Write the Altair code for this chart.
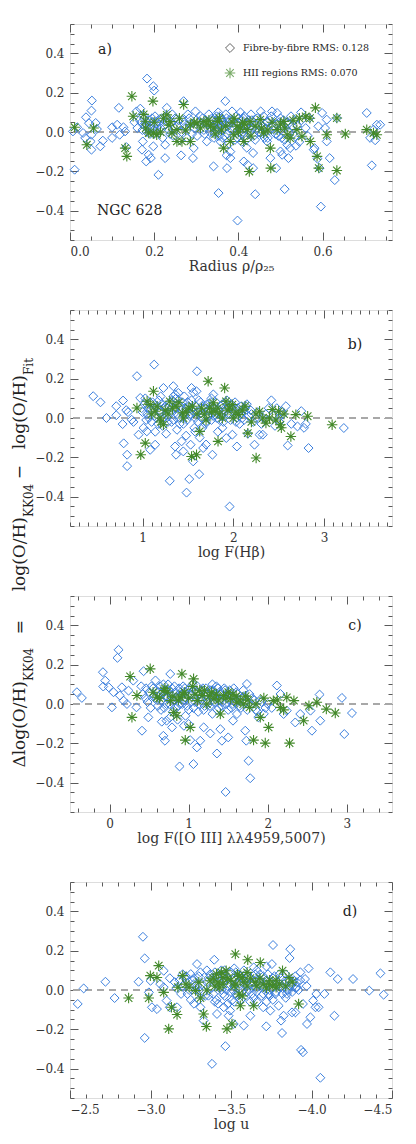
import altair as alt
import pandas as pd

# ---------------- data (x, Δlog(O/H)) ----------------
FIB_A = [
(0.011,-0.192),(0.007,0.003),(0.017,0.024),(0.031,-0.005),(0.038,0.075),(0.052,0.16),(0.051,0.109),
(0.045,0.045),(0.051,-0.014),(0.049,-0.048),(0.051,-0.09),(0.036,-0.03),(0.061,0.046),(0.064,0.015),
(0.072,-0.073),(0.078,-0.044),(0.100,0.024),(0.100,-0.03),(0.116,0.123),(0.112,0.037),(0.118,-0.014),
(0.127,0.024),(0.134,-0.077),(0.131,0.003),(0.153,0.05),(0.158,0.105),(0.167,0.119),(0.183,0.272),
(0.198,0.233),(0.200,0.211),(0.171,-0.09),(0.173,-0.048),(0.187,-0.116),(0.192,-0.133),(0.198,-0.073),
(0.181,-0.15),(0.210,-0.218),(0.226,-0.133),(0.226,-0.065),(0.230,0.123),(0.264,-0.119),(0.270,0.157),
(0.292,-0.133),(0.294,-0.082),(0.298,0.105),(0.325,-0.048),(0.341,-0.175),(0.353,-0.311),(0.369,0.157),
(0.373,-0.184),(0.381,-0.133),(0.381,-0.1),(0.372,-0.119),(0.385,0.105),(0.398,-0.451),(0.413,-0.15),
(0.422,-0.167),(0.435,-0.184),(0.435,-0.107),(0.440,-0.317),(0.453,0.105),(0.468,0.054),(0.444,0.02),
(0.468,-0.048),(0.476,-0.133),(0.490,-0.184),(0.480,0.105),(0.492,0.097),(0.500,-0.099),(0.504,-0.116),
(0.510,-0.291),(0.516,-0.065),(0.519,-0.133),(0.523,-0.082),(0.535,-0.022),(0.537,-0.07),(0.549,0.1),
(0.569,0.071),(0.579,-0.09),(0.581,-0.082),(0.588,-0.136),(0.590,0.029),(0.599,0.097),(0.593,-0.184),
(0.596,-0.38),(0.606,0.02),(0.610,0.063),(0.610,-0.048),(0.617,-0.133),(0.629,-0.245),(0.634,0.071),
(0.705,0.097),(0.713,-0.03),(0.717,-0.17),(0.721,0.012),(0.729,0.037),(0.737,0.037),(0.725,-0.042),
(0.160,0.02),(0.165,0.06),(0.175,0.085),(0.178,0.03),(0.182,0.0),(0.186,0.045),(0.19,0.02),(0.195,0.07),
(0.2,-0.01),(0.205,0.04),(0.21,0.06),(0.215,0.02),(0.22,-0.03),(0.228,0.08),(0.235,0.01),(0.24,0.05),
(0.245,-0.02),(0.25,0.07),(0.255,0.03),(0.262,-0.04),(0.268,0.06),(0.275,0.02),(0.28,0.09),(0.285,0.04),
(0.29,-0.01),(0.3,0.06),(0.305,0.03),(0.31,0.08),(0.318,0.01),(0.322,0.05),(0.33,0.09),(0.335,0.02),
(0.34,0.06),(0.342,-0.03),(0.345,0.04),(0.348,0.08),(0.35,0.0),(0.352,0.1),(0.355,0.03),(0.358,-0.05),
(0.36,0.07),(0.362,0.01),(0.365,0.05),(0.368,-0.02),(0.37,0.09),(0.375,0.03),(0.378,-0.06),(0.38,0.06),
(0.39,0.02),(0.395,0.08),(0.398,-0.03),(0.40,0.05),(0.402,0.0),(0.405,0.1),(0.408,-0.05),(0.41,0.03),
(0.412,0.07),(0.415,-0.02),(0.418,0.04),(0.42,-0.08),(0.425,0.06),(0.428,0.0),(0.43,0.09),(0.435,0.02),
(0.44,-0.04),(0.445,0.07),(0.45,0.03),(0.455,-0.01),(0.46,0.08),(0.465,0.02),(0.47,-0.03),(0.475,0.06),
(0.485,0.01),(0.49,0.04),(0.495,-0.02),(0.5,0.07),(0.505,0.02),(0.51,-0.04),(0.515,0.05),(0.52,0.0),
(0.525,0.08),(0.53,-0.01),(0.54,0.03),(0.545,-0.05),(0.55,0.06),(0.56,0.02),(0.565,-0.02),
(0.17,0.05),(0.172,0.01),(0.176,0.07),(0.18,0.04),(0.184,0.02),(0.188,0.06),(0.19,-0.01),(0.193,0.03),
(0.196,0.05),(0.199,0.01),(0.202,0.08),(0.207,0.0),(0.212,0.04),(0.218,0.07),(0.224,0.03),(0.232,0.05),
(0.238,-0.01),(0.243,0.09),(0.248,0.02),(0.258,0.06),(0.265,0.0),(0.272,0.04),(0.278,-0.03),(0.283,0.07),
(0.295,0.02),(0.302,-0.02),(0.308,0.05),(0.315,0.07),(0.32,-0.01),(0.327,0.04),(0.332,0.0),(0.337,0.07),
(0.339,0.03),(0.344,-0.01),(0.347,0.06),(0.349,0.02),(0.351,0.05),(0.354,-0.02),(0.356,0.08),(0.359,0.03),
(0.361,0.06),(0.363,-0.03),(0.366,0.02),(0.369,0.04),(0.372,0.07),(0.374,-0.01),(0.377,0.05),(0.383,0.01),
(0.387,0.06),(0.392,-0.04),(0.397,0.04),(0.401,0.07),(0.404,0.02),(0.407,-0.01),(0.409,0.06),(0.411,0.0),
(0.414,0.08),(0.417,0.03),(0.419,-0.04),(0.422,0.05),(0.427,0.02),(0.432,0.06),(0.437,-0.02),(0.442,0.04),
(0.448,0.0),(0.452,0.06),(0.458,0.03),(0.462,-0.03),(0.467,0.05),(0.473,0.01),(0.478,0.08),(0.483,0.03),
(0.488,-0.01),(0.497,0.05),(0.503,-0.03),(0.507,0.06),(0.513,0.02),(0.518,0.04),(0.528,0.03),(0.533,0.06),
]
HII_A = [
(0.011,0.024),(0.040,-0.065),(0.056,0.02),(0.131,-0.082),(0.135,-0.124),(0.147,0.182),(0.150,0.08),
(0.175,0.09),(0.179,0.055),(0.187,-0.005),(0.197,0.157),(0.198,-0.005),(0.206,-0.014),(0.222,0.07),
(0.230,0.087),(0.238,0.053),(0.242,-0.005),(0.254,0.012),(0.254,-0.048),(0.266,-0.048),(0.270,0.14),
(0.286,-0.048),(0.286,0.037),(0.302,0.046),(0.318,0.054),(0.334,0.029),(0.342,0.02),(0.350,0.054),
(0.365,-0.082),(0.381,-0.048),(0.389,-0.014),(0.397,0.029),(0.405,0.020),(0.413,-0.048),(0.421,0.012),
(0.426,-0.201),(0.428,0.054),(0.452,0.063),(0.460,-0.005),(0.476,-0.082),(0.477,-0.184),(0.492,0.012),
(0.508,0.054),(0.516,-0.014),(0.523,-0.031),(0.539,0.012),(0.551,-0.022),(0.571,-0.048),(0.583,0.123),
(0.587,-0.124),(0.591,-0.184),(0.610,-0.014),(0.634,0.071),(0.634,-0.196),(0.654,-0.01),(0.705,0.012),
(0.721,-0.005),(0.729,-0.014),(0.33,0.06),(0.36,0.01),(0.39,0.07),(0.41,0.05),(0.44,0.03),(0.47,0.01),
(0.5,0.04),(0.53,0.06),(0.56,0.08),(0.57,0.07),
(0.18,0.02),(0.2,0.05),(0.215,0.0),(0.235,0.035),(0.26,0.07),(0.275,0.01),(0.295,0.05),(0.31,0.02),
(0.325,0.04),(0.345,-0.01),(0.355,0.07),(0.37,0.03),(0.385,0.05),(0.4,0.0),(0.415,0.04),(0.43,-0.02),
(0.455,0.02),(0.48,0.05),(0.51,0.02),(0.545,0.07),
]
FIB_B = [
(0.456,0.111),(0.536,0.08),(0.602,0.0),(0.71,0.06),(0.71,0.014),(0.785,0.089),(0.78,-0.031),(0.792,-0.129),
(0.83,-0.187),(0.83,-0.245),(0.82,0.04),(0.84,0.03),(0.88,-0.009),(0.90,-0.02),(0.938,0.213),(0.956,-0.085),
(0.974,0.102),(0.99,0.05),(1.01,-0.05),(1.047,-0.068),(1.084,-0.162),(1.128,0.272),(1.139,-0.136),(1.23,0.153),
(1.30,-0.32),(1.339,0.162),(1.358,-0.145),(1.369,-0.187),(1.394,0.128),(1.43,-0.119),(1.449,-0.17),(1.485,-0.38),
(1.515,-0.311),(1.53,-0.136),(1.54,0.153),(1.558,-0.221),(1.595,0.136),(1.60,0.238),(1.624,-0.286),(1.63,-0.1),
(1.668,-0.153),(1.70,-0.135),(1.77,-0.187),(1.78,0.12),(1.83,-0.07),(1.88,-0.05),(1.923,-0.102),(1.96,-0.451),
(1.99,-0.085),(2.04,-0.145),(2.09,0.06),(2.13,0.05),(2.16,-0.08),(2.234,-0.136),(2.25,0.0),(2.29,-0.085),
(2.325,-0.085),(2.33,0.0),(2.39,0.05),(2.42,0.09),(2.46,-0.04),(2.50,0.0),(2.53,0.035),(2.6,-0.14),
(2.64,-0.03),(2.708,-0.043),(2.75,0.035),(2.78,-0.05),(2.80,-0.03),(2.83,-0.153),(3.219,-0.051),
(1.05,0.02),(1.08,0.08),(1.1,-0.02),(1.12,0.05),(1.15,0.0),(1.18,0.09),(1.2,0.03),(1.22,-0.04),(1.25,0.06),
(1.27,0.01),(1.3,0.08),(1.32,-0.02),(1.35,0.04),(1.37,0.1),(1.4,0.0),(1.42,0.06),(1.45,-0.03),(1.47,0.03),
(1.5,0.08),(1.52,0.01),(1.55,0.05),(1.57,-0.05),(1.6,0.03),(1.62,0.09),(1.65,0.0),(1.67,0.06),(1.7,-0.02),
(1.72,0.04),(1.75,0.08),(1.78,0.01),(1.8,0.05),(1.85,-0.01),(1.88,0.07),(1.9,0.03),(1.93,0.09),(1.96,0.02),
(2.0,0.06),(2.03,-0.02),(2.06,0.03),(2.1,0.0),(2.15,0.07),(2.2,0.02),(1.14,-0.07),(1.26,-0.08),(1.38,-0.06),
(1.48,-0.09),(1.58,-0.07),(1.66,-0.05),(1.36,0.12),(1.46,0.11),(1.56,0.13),(1.76,0.1),(1.2,0.11),(1.03,0.1),
(1.0,0.03),(1.02,0.07),(1.04,-0.01),(1.06,0.05),(1.07,0.0),(1.09,0.04),(1.11,0.08),(1.13,0.01),(1.16,0.06),
(1.17,-0.03),(1.19,0.04),(1.21,0.07),(1.23,0.0),(1.24,0.05),(1.26,0.02),(1.28,-0.02),(1.29,0.06),(1.31,0.03),
(1.33,0.09),(1.34,-0.01),(1.36,0.05),(1.38,0.02),(1.39,0.07),(1.41,-0.03),(1.43,0.04),(1.44,0.08),(1.46,0.01),
(1.48,0.05),(1.49,-0.01),(1.51,0.06),(1.53,0.02),(1.54,0.09),(1.56,0.03),(1.58,0.0),(1.59,0.06),(1.61,-0.02),
(1.63,0.04),(1.64,0.08),(1.66,0.02),(1.68,0.05),(1.69,-0.03),(1.71,0.07),(1.73,0.01),(1.74,0.04),(1.76,-0.01),
(1.77,0.06),(1.79,0.03),(1.81,0.08),(1.82,0.0),(1.84,0.04),(1.86,0.06),(1.87,0.01),(1.89,-0.02),(1.91,0.05),
(1.92,0.08),(1.94,0.02),(1.95,0.05),(1.97,-0.01),(1.98,0.07),(2.01,0.03),(2.02,0.08),(2.04,0.0),(2.05,0.05),
(2.07,-0.03),(2.08,0.02),(2.11,0.04),(2.12,-0.01),(2.14,0.06),(2.17,0.01),(2.19,0.04),(2.22,-0.02),(2.27,0.03),
(2.31,-0.03),(2.36,0.02),(2.44,0.01),(2.48,0.05),(2.51,-0.02),(2.55,0.02),(2.58,0.06),(1.34,0.11),
]
HII_B = [
(0.938,0.051),(0.98,-0.187),(1.03,-0.128),(1.12,0.136),(1.05,0.085),(1.085,0.068),(1.139,0.034),(1.193,0.0),
(1.23,-0.034),(1.30,0.085),(1.37,0.06),(1.44,0.026),(1.51,0.051),(1.54,-0.196),(1.595,-0.187),(1.63,-0.068),
(1.723,0.187),(1.74,0.051),(1.78,0.077),(1.80,0.034),(1.832,-0.119),(1.905,0.153),(1.92,0.085),(1.96,0.051),
(1.99,0.068),(2.06,0.017),(2.16,-0.077),(2.252,-0.204),(2.29,0.034),(2.325,0.0),(2.36,-0.026),(2.43,0.043),
(2.50,0.034),(2.52,-0.034),(2.53,-0.05),(2.635,-0.094),(2.69,0.017),(2.82,0.009),(3.09,-0.034),
(1.25,0.04),(1.45,0.0),(1.6,0.02),(1.7,-0.01),(1.85,0.02),(2.0,0.0),(2.1,0.04),(2.2,-0.02),
(1.1,0.02),(1.16,0.06),(1.2,-0.02),(1.28,0.02),(1.33,0.05),(1.4,0.08),(1.48,0.03),(1.55,0.06),(1.65,0.05),
(1.68,0.02),(1.76,0.03),(1.83,0.05),(1.88,0.0),(1.94,0.04),(2.03,0.03),(2.13,0.06),(2.25,0.02),(2.4,0.0),
(2.47,-0.01),(2.56,0.02),
]
FIB_C = [
(-0.413,0.06),(-0.35,0.031),(-0.084,0.162),(-0.055,0.119),(-0.08,0.089),(-0.01,0.085),(0.03,-0.017),(0.05,0.06),
(0.114,0.276),(0.10,0.235),(0.13,0.043),(0.156,0.085),(0.177,0.017),(0.22,0.0),(0.24,0.068),(0.30,0.119),
(0.34,-0.017),(0.41,-0.136),(0.43,0.167),(0.49,-0.068),(0.56,0.043),(0.68,-0.162),(0.70,-0.187),(0.72,-0.085),
(0.767,0.153),(0.79,-0.119),(0.885,-0.318),(0.94,-0.111),(1.00,-0.102),(1.02,-0.184),(1.06,-0.306),(1.104,-0.221),
(1.146,-0.187),(1.19,-0.119),(1.273,-0.15),(1.357,-0.252),(1.40,-0.128),(1.42,-0.187),(1.467,-0.448),(1.50,-0.17),
(1.56,-0.085),(1.61,-0.051),(1.715,-0.136),(1.728,-0.187),(1.757,-0.289),(1.778,-0.378),(1.736,0.102),(1.88,-0.068),
(2.115,0.094),(2.16,0.051),(2.2,-0.051),(2.24,-0.034),(2.347,-0.094),(2.41,-0.051),(2.54,-0.034),(2.558,-0.136),
(2.655,0.048),(2.663,-0.085),(2.937,0.031),(2.967,-0.153),(3.064,-0.046),
(0.55,0.08),(0.6,0.02),(0.62,0.06),(0.65,-0.03),(0.68,0.1),(0.7,0.04),(0.72,0.0),(0.75,0.07),(0.78,0.02),
(0.8,-0.04),(0.82,0.09),(0.85,0.03),(0.87,-0.01),(0.9,0.06),(0.92,0.0),(0.95,0.08),(0.97,0.03),(1.0,-0.03),
(1.02,0.05),(1.05,0.1),(1.08,0.01),(1.1,0.06),(1.12,-0.04),(1.15,0.03),(1.18,0.08),(1.2,-0.01),(1.23,0.05),
(1.25,0.0),(1.28,0.07),(1.3,-0.05),(1.33,0.03),(1.35,0.09),(1.38,-0.02),(1.4,0.05),(1.43,0.01),(1.46,0.07),
(1.5,-0.03),(1.53,0.04),(1.56,0.0),(1.6,0.06),(1.63,0.02),(1.66,-0.02),(1.7,0.04),(1.75,0.0),(1.8,0.03),
(1.85,-0.03),(1.9,0.02),(1.95,-0.05),(2.0,0.0),(2.05,-0.02),(0.66,-0.09),(0.76,-0.07),(0.86,-0.08),(0.96,-0.06),
(1.3,0.1),(0.58,0.12),(0.4,0.09),(0.45,0.03),
(0.42,0.05),(0.46,0.08),(0.48,0.01),(0.5,0.06),(0.52,-0.02),(0.53,0.09),(0.57,0.03),(0.59,0.07),(0.61,-0.01),
(0.63,0.04),(0.64,0.09),(0.66,0.02),(0.67,0.06),(0.69,-0.02),(0.71,0.07),(0.73,0.03),(0.74,0.1),(0.76,0.0),
(0.77,0.05),(0.79,0.08),(0.81,0.02),(0.83,0.06),(0.84,-0.02),(0.86,0.04),(0.88,0.08),(0.89,0.0),(0.91,0.05),
(0.93,0.09),(0.94,0.02),(0.96,0.06),(0.98,-0.01),(0.99,0.04),(1.01,0.08),(1.03,0.01),(1.04,0.05),(1.06,-0.02),
(1.07,0.07),(1.09,0.03),(1.11,0.09),(1.13,0.0),(1.14,0.05),(1.16,0.02),(1.17,0.07),(1.19,-0.03),(1.21,0.04),
(1.22,0.08),(1.24,0.01),(1.26,0.06),(1.27,-0.01),(1.29,0.04),(1.31,0.07),(1.32,0.01),(1.34,0.05),(1.36,-0.03),
(1.37,0.08),(1.39,0.02),(1.41,0.06),(1.42,-0.01),(1.44,0.04),(1.45,0.08),(1.47,0.0),(1.49,0.05),(1.51,0.02),
(1.52,0.07),(1.54,-0.02),(1.55,0.04),(1.57,0.08),(1.59,0.01),(1.62,0.05),(1.64,-0.01),(1.67,0.03),(1.69,0.07),
(1.72,0.01),(1.74,-0.03),(1.77,0.05),(1.79,0.0),(1.83,0.02),(1.87,-0.04),(1.92,0.01),(1.97,-0.02),
]
HII_C = [
(0.26,0.14),(0.283,-0.068),(0.346,0.043),(0.514,0.179),(0.60,0.034),(0.687,0.068),(0.77,0.017),(0.81,-0.043),
(0.85,-0.06),(0.89,0.034),(0.914,0.153),(0.957,-0.184),(1.02,-0.119),(1.062,0.128),(1.11,0.017),(1.17,0.043),
(1.23,0.0),(1.32,0.026),(1.40,-0.051),(1.44,0.043),(1.53,0.026),(1.61,0.009),(1.69,0.0),(1.77,-0.017),
(1.82,-0.184),(1.905,-0.068),(1.968,-0.199),(2.01,-0.119),(2.07,0.017),(2.16,-0.017),(2.24,0.034),(2.275,-0.199),
(2.33,0.017),(2.453,-0.085),(2.52,-0.009),(2.62,0.009),(2.74,-0.026),(2.853,-0.046),
(0.7,0.08),(0.95,0.06),(1.05,0.09),(1.2,0.07),(1.35,0.05),(1.5,0.06),(1.6,0.04),(1.75,0.02),
(0.55,0.06),(0.63,0.03),(0.73,0.06),(0.8,0.04),(0.87,0.02),(0.92,0.05),(1.0,0.03),(1.08,0.05),(1.14,0.07),
(1.26,0.04),(1.29,0.06),(1.38,0.02),(1.47,0.03),(1.56,0.05),(1.65,0.02),(1.72,0.04),(1.85,0.0),(1.95,0.03),
(2.12,0.02),(2.2,-0.03),
]
FIB_D = [
(-2.548,-0.071),(-2.585,0.008),(-2.72,0.042),(-2.777,-0.041),(-2.926,0.042),(-2.953,0.271),(-2.964,0.161),
(-2.964,-0.244),(-2.99,-0.012),(-3.0,0.047),(-3.009,-0.088),(-3.04,-0.097),(-3.06,0.03),(-3.082,0.098),
(-3.082,0.014),(-3.10,-0.054),(-3.12,-0.088),(-3.165,-0.088),(-3.21,0.064),(-3.25,0.081),(-3.27,0.03),
(-3.289,0.132),(-3.30,-0.003),(-3.31,-0.088),(-3.33,-0.156),(-3.36,-0.029),(-3.382,-0.376),(-3.396,0.154),
(-3.413,-0.122),(-3.455,-0.088),(-3.465,-0.286),(-3.485,-0.131),(-3.495,-0.105),(-3.505,-0.054),(-3.517,-0.173),
(-3.579,-0.181),(-3.579,-0.037),(-3.62,-0.131),(-3.641,0.115),(-3.70,-0.088),(-3.719,-0.185),(-3.734,-0.02),
(-3.744,-0.105),(-3.754,0.132),(-3.761,0.229),(-3.775,-0.02),(-3.796,-0.08),(-3.811,-0.156),(-3.817,-0.219),
(-3.827,-0.131),(-3.848,-0.02),(-3.864,0.163),(-3.868,0.208),(-3.879,-0.114),(-3.9,-0.114),(-3.91,0.014),
(-3.931,0.09),(-3.935,-0.305),(-3.947,-0.317),(-3.947,-0.071),(-3.96,0.056),(-3.97,0.02),(-3.982,0.11),
(-3.972,-0.173),(-3.993,-0.139),(-4.01,-0.054),(-4.025,-0.088),(-4.03,-0.02),(-4.055,-0.447),(-4.08,-0.02),
(-4.044,-0.088),(-4.117,0.09),(-4.142,-0.131),(-4.163,0.056),(-4.258,0.056),(-4.359,-0.003),(-4.428,0.085),
(-4.448,-0.024),
(-3.2,0.02),(-3.23,-0.02),(-3.26,0.05),(-3.28,0.0),(-3.3,0.07),(-3.32,0.03),(-3.34,-0.03),(-3.36,0.06),
(-3.38,0.01),(-3.4,0.09),(-3.41,-0.05),(-3.42,0.04),(-3.44,0.0),(-3.45,0.07),(-3.46,-0.03),(-3.47,0.05),
(-3.48,0.02),(-3.5,0.09),(-3.51,0.0),(-3.52,0.06),(-3.53,-0.02),(-3.54,0.04),(-3.55,0.08),(-3.56,0.01),
(-3.57,0.06),(-3.58,0.03),(-3.6,-0.01),(-3.61,0.07),(-3.62,0.03),(-3.64,-0.04),(-3.65,0.05),(-3.66,0.01),
(-3.68,0.08),(-3.69,0.02),(-3.7,-0.02),(-3.72,0.05),(-3.74,0.0),(-3.76,0.06),(-3.78,0.03),(-3.8,0.08),
(-3.82,0.01),(-3.84,0.05),(-3.86,0.0),(-3.88,0.04),(-3.9,0.07),(-3.42,-0.07),(-3.52,-0.06),(-3.62,-0.06),
(-3.72,-0.06),(-3.46,0.1),(-3.58,0.1),(-3.38,0.06),(-3.25,-0.05),(-3.15,0.04),(-3.12,0.06),
(-3.16,0.01),(-3.18,0.05),(-3.19,-0.02),(-3.21,0.03),(-3.22,0.07),(-3.24,0.0),(-3.27,0.06),(-3.29,0.02),
(-3.31,0.09),(-3.33,-0.01),(-3.35,0.04),(-3.37,0.08),(-3.39,-0.02),(-3.40,0.03),(-3.41,0.07),(-3.43,0.01),
(-3.44,0.05),(-3.45,-0.02),(-3.46,0.08),(-3.47,0.0),(-3.48,0.06),(-3.49,0.03),(-3.50,-0.01),(-3.51,0.05),
(-3.52,0.02),(-3.53,0.09),(-3.54,-0.03),(-3.55,0.03),(-3.56,0.07),(-3.57,-0.01),(-3.58,0.05),(-3.59,0.08),
(-3.60,0.02),(-3.61,0.0),(-3.62,0.06),(-3.63,-0.02),(-3.64,0.04),(-3.65,0.08),(-3.66,-0.01),(-3.67,0.03),
(-3.68,0.05),(-3.69,-0.03),(-3.70,0.07),(-3.71,0.01),(-3.72,0.03),(-3.73,0.08),(-3.74,-0.03),(-3.75,0.04),
(-3.76,0.01),(-3.77,0.07),(-3.78,-0.01),(-3.79,0.04),(-3.80,0.02),(-3.81,0.06),(-3.82,-0.02),(-3.83,0.03),
(-3.84,0.08),(-3.85,0.0),(-3.86,0.05),(-3.87,0.02),(-3.88,-0.01),(-3.89,0.05),(-3.90,0.01),(-3.91,0.04),
(-3.92,0.0),(-3.93,0.05),(-3.35,0.1),(-3.44,0.1),(-3.52,0.11),(-3.66,0.1),(-3.72,0.12),(-3.3,-0.05),
(-3.4,-0.06),(-3.48,-0.07),(-3.56,-0.05),(-3.66,-0.06),(-3.76,-0.05),(-3.84,-0.04),(-3.27,-0.07),(-3.2,0.08),
]
HII_D = [
(-2.864,-0.041),(-2.989,-0.041),(-2.999,0.073),(-3.051,0.124),(-3.04,0.064),(-3.082,-0.012),(-3.113,-0.198),
(-3.165,-0.125),(-3.13,-0.088),(-3.17,0.014),(-3.2,0.073),(-3.24,0.014),(-3.28,-0.003),(-3.31,-0.041),
(-3.33,-0.122),(-3.347,-0.186),(-3.37,0.047),(-3.41,0.081),(-3.43,0.014),(-3.45,0.064),(-3.47,0.098),
(-3.475,-0.198),(-3.506,-0.173),(-3.527,0.183),(-3.53,0.03),(-3.55,-0.020),(-3.558,-0.08),(-3.57,0.064),
(-3.604,0.154),(-3.641,-0.08),(-3.682,0.14),(-3.70,0.03),(-3.74,0.03),(-3.78,0.014),(-3.82,0.098),
(-3.86,0.064),(-3.92,-0.071),
(-3.45,0.03),(-3.5,0.05),(-3.55,0.07),(-3.6,0.02),(-3.65,0.04),(-3.72,0.01),(-3.78,0.05),(-3.4,0.02),
(-3.22,0.03),(-3.3,0.04),(-3.35,0.0),(-3.39,0.06),(-3.42,0.04),(-3.48,0.06),(-3.52,0.02),(-3.54,0.08),
(-3.58,0.04),(-3.62,0.06),(-3.66,0.02),(-3.68,0.06),(-3.74,0.05),(-3.76,0.02),(-3.8,0.03),(-3.84,0.02),
(-3.88,0.04),(-3.6,0.09),(-3.44,0.09),(-3.57,-0.03),
]

Y_MAJOR = [-0.4, -0.2, 0.0, 0.2, 0.4]
Y_MINOR = [-0.55, -0.5, -0.45, -0.35, -0.3, -0.25, -0.15, -0.1, -0.05, 0.05, 0.1, 0.15, 0.25, 0.3, 0.35, 0.45, 0.5, 0.55]

LEGEND_FIB = "Fibre-by-fibre RMS: 0.128"
LEGEND_HII = "HII regions RMS: 0.070"

# ---------------- style ----------------
BLUE = "#3b7fde"
GREEN = "#43892a"
FONT = "DejaVu Serif"
TICK = "#5a5a5a"
YDOM = [-0.55, 0.55]
ASTER = "M-1,0L1,0M0,-1L0,1M-0.72,-0.72L0.72,0.72M-0.72,0.72L0.72,-0.72"
W, H = 322, 216


def frame(pairs):
    return pd.DataFrame(pairs, columns=["x", "y"])


def axis(orient, values, size, labels=False, fmt=".1f"):
    kw = dict(orient=orient, values=values, tickSize=size, offset=-size, domain=False,
              grid=False, labels=labels, tickColor=TICK, tickWidth=1)
    if labels:
        kw.update(format=fmt, labelFont=FONT, labelFontSize=12, labelColor="#333",
                  labelPadding=6, titleFont=FONT, titleFontSize=14, titleFontWeight="normal",
                  titleColor="#333", titlePadding=2)
    return alt.Axis(**kw)


def text(t, x, y, size, align="center", angle=0, color="#222", baseline="middle"):
    kw = dict(text=t, font=FONT, fontSize=size, align=align, baseline=baseline, color=color)
    if angle:
        kw["angle"] = angle
    return alt.Chart(pd.DataFrame({"k": [0]})).mark_text(**kw).encode(
        x=alt.value(x), y=alt.value(y))


def panel(fib, hii, xdom, xmajor, xminor, xtitle, xfmt, extras):
    xs = alt.Scale(domain=xdom, nice=False, zero=False)
    ys = alt.Scale(domain=YDOM, nice=False, zero=False)
    dfib, dhii = frame(fib), frame(hii)
    zero = alt.Chart(dfib).mark_rule(color="#a8a8a8", strokeDash=[7, 5], strokeWidth=1.4).encode(
        y=alt.Y(datum=0, scale=ys, axis=axis("right", Y_MAJOR, 8)))
    dia = alt.Chart(dfib).mark_point(shape="diamond", filled=False, size=80, strokeWidth=1,
                                     color=BLUE, opacity=1).encode(
        x=alt.X("x:Q", scale=xs, axis=axis("bottom", xmajor, 8, True, xfmt), title=xtitle),
        y=alt.Y("y:Q", scale=ys, axis=axis("left", Y_MAJOR, 8, True), title=""))
    ast = alt.Chart(dhii).mark_point(shape=ASTER, filled=False, size=110, strokeWidth=1.1,
                                     color=GREEN, opacity=1).encode(
        x=alt.X("x:Q", scale=xs, axis=axis("bottom", xminor, 4), title=""),
        y=alt.Y("y:Q", scale=ys, axis=axis("left", Y_MINOR, 4), title=""))
    t1 = alt.Chart(dfib).mark_point(opacity=0).encode(
        x=alt.X("x:Q", scale=xs, axis=axis("top", xmajor, 8), title=""),
        y=alt.Y("y:Q", scale=ys, axis=axis("right", Y_MINOR, 4), title=""))
    t2 = alt.Chart(dfib).mark_point(opacity=0).encode(
        x=alt.X("x:Q", scale=xs, axis=axis("top", xminor, 4), title=""),
        y=alt.Y("y:Q", scale=ys, axis=None))
    return alt.layer(zero, dia, ast, t1, t2, *extras).resolve_axis(
        x="independent", y="independent").properties(width=W, height=H)


# ---------------- panel extras ----------------
extras_a = [
    text("a)", 35, 26, 14),
    alt.Chart(pd.DataFrame({"k": [0]})).mark_point(shape="diamond", filled=False, size=80,
                                                    color="#222", strokeWidth=1).encode(
        x=alt.value(160), y=alt.value(24)),
    alt.Chart(pd.DataFrame({"k": [0]})).mark_point(shape=ASTER, filled=False, size=110,
                                                    color=GREEN, strokeWidth=1.1).encode(
        x=alt.value(160), y=alt.value(49)),
    text(LEGEND_FIB, 173, 24, 9.5, align="left"),
    text(LEGEND_HII, 173, 49, 9.5, align="left"),
    text("NGC 628", 27, 187, 14, align="left"),
]

# shared y title, drawn in panel b (segments with subscripts)
YT_X, YT_SUB = -50, -41
extras_b = [
    text("b)", 285, 35, 14),
    text("Δlog(O/H)", YT_X, 371, 17, align="right", angle=270),
    text("KK04", YT_SUB, 371, 12, align="left", angle=270),
    text("=", YT_X, 317, 17, angle=270),
    text("log(O/H)", YT_X, 207, 17, align="right", angle=270),
    text("KK04", YT_SUB, 207, 12, align="left", angle=270),
    text("−", YT_X, 162, 17, angle=270),
    text("log(O/H)", YT_X, 65, 17, align="right", angle=270),
    text("Fit", YT_SUB, 65, 12, align="left", angle=270),
]
extras_c = [text("c)", 285, 30, 14)]
extras_d = [text("d)", 280, 30, 14)]

XMIN_A = [0.05, 0.1, 0.15, 0.25, 0.3, 0.35, 0.45, 0.5, 0.55, 0.65, 0.7, 0.75]
XMIN_B = [0.2, 0.3, 0.4, 0.5, 0.6, 0.7, 0.8, 0.9, 1.1, 1.2, 1.3, 1.4, 1.5, 1.6, 1.7, 1.8, 1.9,
          2.1, 2.2, 2.3, 2.4, 2.5, 2.6, 2.7, 2.8, 2.9, 3.1, 3.2, 3.3, 3.4, 3.5, 3.6, 3.7]
XMIN_C = [-0.4, -0.2, 0.2, 0.4, 0.6, 0.8, 1.2, 1.4, 1.6, 1.8, 2.2, 2.4, 2.6, 2.8, 3.2, 3.4]
XMIN_D = [-2.6, -2.7, -2.8, -2.9, -3.1, -3.2, -3.3, -3.4, -3.6, -3.7, -3.8, -3.9,
          -4.1, -4.2, -4.3, -4.4]

pa = panel(FIB_A, HII_A, [0, 0.765], [0.0, 0.2, 0.4, 0.6], XMIN_A, "Radius  ρ/ρ₂₅", ".1f", extras_a)
pb = panel(FIB_B, HII_B, [0.2, 3.75], [1, 2, 3], XMIN_B, "log  F(Hβ)", "d", extras_b)
pc = panel(FIB_C, HII_C, [-0.5, 3.57], [0, 1, 2, 3], XMIN_C, "log  F([O III]  λλ4959,5007)", "d", extras_c)
pd_ = panel(FIB_D, HII_D, [-2.5, -4.5], [-2.5, -3.0, -3.5, -4.0, -4.5], XMIN_D, "log  u", ".1f", extras_d)

chart = alt.vconcat(pa, pb, pc, pd_, spacing=70, bounds="flush").properties(
    padding={"left": 2, "top": 15, "right": 5, "bottom": 5}
).configure_view(stroke="#555", strokeWidth=1).configure(background="white")

chart.save("out.html", embed_options={"renderer": "svg", "actions": False})
